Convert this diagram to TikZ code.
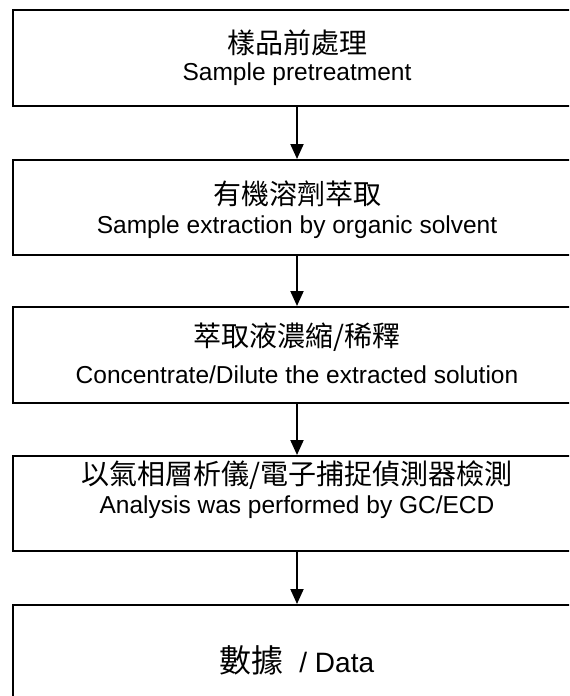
\documentclass[tikz,border=0pt]{standalone}
\usepackage{fontspec}
\setmainfont{Liberation Sans}
\newfontfamily\cjk{Noto Sans CJK TC}
\usetikzlibrary{arrows.meta}

\tikzset{
    stepbox/.style={draw, line width=1pt, minimum width=284pt, inner sep=0pt},
    zh/.style={font=\cjk\fontsize{14}{16}\selectfont, inner sep=0pt},
    en/.style={font=\fontsize{12.25}{14}\selectfont, inner sep=0pt}
}

\begin{document}
\begin{tikzpicture}[x=0.5pt, y=-0.5pt, >={Triangle[width=6.5pt, length=7.5pt]}]

\useasboundingbox (0, 0) rectangle (569, 696);
\clip (0, 0) rectangle (569, 696);

\foreach \n/\y/\h in {1/58/48, 2/207.5/47.5, 3/355/48, 4/503.5/47.5, 5/660/55}
    \node [stepbox, minimum height=\h pt] (box-\n) at (297, \y) {};

\node [zh] (zh-1) at (297, 43) {樣品前處理};
\node [en] (en-1) at (297, 74) {Sample pretreatment};

\node [zh] (zh-2) at (297, 194) {有機溶劑萃取};
\node [en] (en-2) at (297, 227) {Sample extraction by organic solvent};

\node [zh] (zh-3) at (297, 337) {萃取液濃縮/稀釋};
\node [en] (en-3) at (297, 375) {Concentrate/Dilute the extracted solution};

\node [zh] (zh-4) at (297, 475) {以氣相層析儀/電子捕捉偵測器檢測};
\node [en] (en-4) at (297, 507) {Analysis was performed by GC/ECD};

\node [inner sep=0pt] (data) at (297, 660)
    {{\cjk\fontsize{16}{18}\selectfont 數據}\fontsize{14}{16}\selectfont\ \ / Data};

\foreach \i [count=\j from 2] in {1, ..., 4}
    \draw [->, line width=1pt] (box-\i) -- (box-\j);

\end{tikzpicture}
\end{document}
